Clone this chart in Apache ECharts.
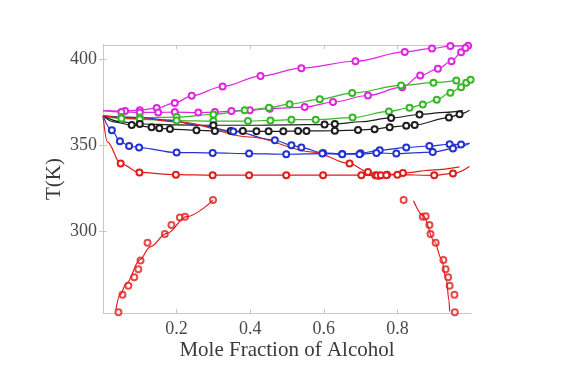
<!DOCTYPE html>
<html><head><meta charset="utf-8">
<script src="https://cdn.jsdelivr.net/npm/echarts@6/dist/echarts.min.js"></script>
<style>html,body{margin:0;padding:0;background:#fff}#c{width:574px;height:380px}</style>
</head><body><div id="c"></div>
<script>
// x = mole fraction of alcohol, T in K; third element 0 = fitted-curve point (no measured marker)
const xTicks = [0.2, 0.4, 0.6, 0.8];
const yTicks = [300, 350, 400];

const magentaDew = [[0,370,0],[0.06,369.8],[0.10,370.3],[0.146,371.5],[0.195,374.5],[0.241,378.6],[0.325,384],[0.428,390],[0.539,394.6],[0.686,398.6],[0.82,404],[0.894,406],[0.944,407.4],[0.992,407.6]];
const magentaBub = [[0,370,0],[0.05,369.3],[0.10,369],[0.15,369],[0.195,369.2],[0.259,368.9],[0.304,369.2],[0.349,369.8],[0.399,370.2],[0.453,371.2],[0.548,372.1],[0.625,375],[0.72,378.8],[0.813,383.6],[0.862,390.4],[0.91,394.2],[0.947,398.6],[0.973,403.8],[0.985,406.3],[0.994,407.7,0]];

const greenDew = [[0,367,0],[0.05,366.3],[0.1,366],[0.2,366.3],[0.3,367.8],[0.385,370.2],[0.451,371.7],[0.507,373.8],[0.589,376.6],[0.677,380.2],[0.81,384.6],[0.898,386.2],[0.96,387.5]];
const greenBub = [[0,367,0],[0.05,365.5],[0.1,365],[0.2,364.3],[0.3,364],[0.394,364],[0.455,364.4],[0.512,364.8],[0.578,364.8],[0.678,366],[0.777,369.6],[0.833,371.7],[0.869,373.6],[0.907,376.4],[0.944,380.4],[0.973,383.6],[0.987,386.2],[0.999,387.9]];

const blackDew = [[0,367,0],[0.05,363.5,0],[0.1,362.3],[0.2,361.8,0],[0.3,361.6],[0.4,361.6,0],[0.5,361.8,0],[0.602,362],[0.63,362.3],[0.7,363.6,0],[0.783,365.8],[0.86,367.8],[0.93,369,0],[0.978,370,0]];
const blackBub = [[0,367,0],[0.03,363.5,0],[0.078,361.7],[0.132,360.4],[0.153,359.8],[0.182,359.4],[0.254,358.7],[0.304,358.3],[0.347,358.2],[0.38,358.2],[0.417,358.1],[0.45,358.1],[0.49,358.1],[0.53,358.2],[0.553,358.3],[0.63,358.4],[0.693,358.8],[0.738,359.3],[0.779,360.5],[0.824,361.3],[0.847,361.8],[0.94,366],[0.969,368],[0.996,370.2,0]];

const blueDew = [[0,367,0],[0.1,366,0],[0.18,364.5,0],[0.263,361.5,0],[0.354,358],[0.467,352.9],[0.512,350],[0.539,348.7],[0.598,345.6],[0.65,345],[0.7,345.4],[0.752,347.1],[0.824,348.7],[0.887,349.6],[0.942,350.6],[0.973,350.4],[0.996,351.3,0]];
const blueBub = [[0,367,0],[0.024,358.7],[0.046,352.3],[0.071,349.6],[0.098,348.7],[0.2,345.8],[0.298,345.6],[0.397,345.2],[0.498,344.8],[0.596,345.2],[0.65,344.8],[0.697,344.8],[0.743,345.6],[0.797,345.2],[0.896,346.1],[0.951,348.1],[0.996,351,0]];

const redDew = [[0,367,0],[0.1,365.5,0],[0.209,363.4,0],[0.399,354.8,0],[0.571,346.1,0],[0.67,339.4],[0.72,334.6],[0.74,332.6],[0.75,332.4],[0.772,333],[0.815,334],[0.9,335.8,0],[0.969,337.5,0]];
const redBub = [[0,367,0],[0.012,352,0],[0.048,339.4],[0.099,334.3],[0.198,333],[0.298,332.7],[0.397,332.7],[0.498,332.7],[0.598,332.7],[0.702,332.7],[0.745,332.5],[0.755,332.6],[0.77,332.7],[0.8,333],[0.9,332.6],[0.951,333.7],[0.996,337.8,0]];

const lleLeftPts = [[0.042,253.5],[0.053,263.5],[0.069,268.7],[0.085,273.7],[0.096,278.3],[0.102,283.3],[0.121,293.7],[0.168,298.7],[0.186,303.9],[0.209,308.3],[0.223,308.7],[0.299,318.3]];
const lleLeftFit = [[0.035,254.8],[0.046,263.5],[0.064,270.3],[0.1,283.7],[0.128,291.3],[0.173,299],[0.227,308.7],[0.299,318.3]];
const lleRightPts = [[0.817,318.3],[0.869,308.7],[0.877,309],[0.887,303.9],[0.89,298.7],[0.904,293.7],[0.925,283.7],[0.931,278.3],[0.938,273.7],[0.942,268.7],[0.955,263.5],[0.956,253.5]];
const lleRightFit = [[0.844,317.9],[0.869,309.6],[0.901,294.2],[0.919,284.6],[0.933,272.2],[0.94,260.6],[0.942,253.9]];

const COLORS = {magenta:'#e024e0', green:'#35b825', black:'#1e1e1e', blue:'#2232d0', red:'#e01c1c'};
const FONT = 'Liberation Serif';

function curve(pts, color){
  return {
    type:'line', smooth:0.35, smoothMonotone:'x', xAxisIndex:0, yAxisIndex:0,
    data: pts.map(p => p[2] === 0 ? {value:[p[0],p[1]], symbol:'none'} : [p[0],p[1]]),
    symbol:'emptyCircle', symbolSize:6, showAllSymbol:true,
    lineStyle:{color, width:1.2}, itemStyle:{color, borderColor:color, borderWidth:1},
    emphasis:{disabled:true}, animation:false, clip:false
  };
}
function fitLine(pts, color){
  return {type:'line', smooth:0.35, smoothMonotone:'x', data:pts, symbol:'none',
    lineStyle:{color, width:1.2}, emphasis:{disabled:true}, animation:false};
}
function marks(pts, color){
  return {type:'scatter', data:pts, symbol:'emptyCircle', symbolSize:6,
    itemStyle:{color, borderColor:color, borderWidth:1}, emphasis:{disabled:true}, animation:false};
}

const axisLineGray = {lineStyle:{color:'#c8c8c8', width:1}};
const chart = echarts.init(document.getElementById('c'), null, {renderer:'canvas'});
chart.setOption({
  backgroundColor:'#fff',
  grid:{left:103, right:103, top:45, bottom:67},
  xAxis:[{
    type:'value', min:0, max:1, position:'bottom',
    axisLine:{show:true, ...axisLineGray},
    axisTick:{show:true, inside:true, length:4, customValues:xTicks, lineStyle:{color:'#c8c8c8'}},
    axisLabel:{customValues:xTicks, formatter:v=>v.toFixed(1), fontFamily:FONT, fontSize:18, color:'#4a4a4a', margin:7},
    splitLine:{show:false},
    name:'Mole Fraction of Alcohol', nameLocation:'middle', nameGap:27, nameMoveOverlap:false,
    nameTextStyle:{fontFamily:FONT, fontSize:21, color:'#3a3a3a'}
  },{
    type:'value', min:0, max:1, position:'top',
    axisLine:{show:true, ...axisLineGray},
    axisTick:{show:true, inside:true, length:4, customValues:xTicks, lineStyle:{color:'#c8c8c8'}},
    axisLabel:{show:false}, splitLine:{show:false}
  }],
  yAxis:[{
    type:'value', min:253, max:408, position:'left',
    axisLine:{show:true, ...axisLineGray},
    axisTick:{show:true, inside:true, length:4, customValues:yTicks, lineStyle:{color:'#c8c8c8'}},
    axisLabel:{customValues:yTicks, fontFamily:FONT, fontSize:18, color:'#4a4a4a', margin:6},
    splitLine:{show:false},
    name:'T(K)', nameLocation:'middle', nameGap:38, nameRotate:90, nameMoveOverlap:false,
    nameTextStyle:{fontFamily:FONT, fontSize:21, color:'#3a3a3a'}
  },{
    type:'value', min:253, max:408, position:'right',
    axisLine:{show:true, ...axisLineGray},
    axisTick:{show:true, inside:true, length:4, customValues:yTicks, lineStyle:{color:'#c8c8c8'}},
    axisLabel:{show:false}, splitLine:{show:false}
  }],
  series:[
    curve(magentaDew, COLORS.magenta), curve(magentaBub, COLORS.magenta),
    curve(greenDew, COLORS.green), curve(greenBub, COLORS.green),
    curve(blackDew, COLORS.black), curve(blackBub, COLORS.black),
    curve(blueDew, COLORS.blue), curve(blueBub, COLORS.blue),
    curve(redDew, COLORS.red), curve(redBub, COLORS.red),
    fitLine(lleLeftFit, COLORS.red), marks(lleLeftPts, COLORS.red),
    fitLine(lleRightFit, COLORS.red), marks(lleRightPts, COLORS.red)
  ]
});
</script></body></html>
